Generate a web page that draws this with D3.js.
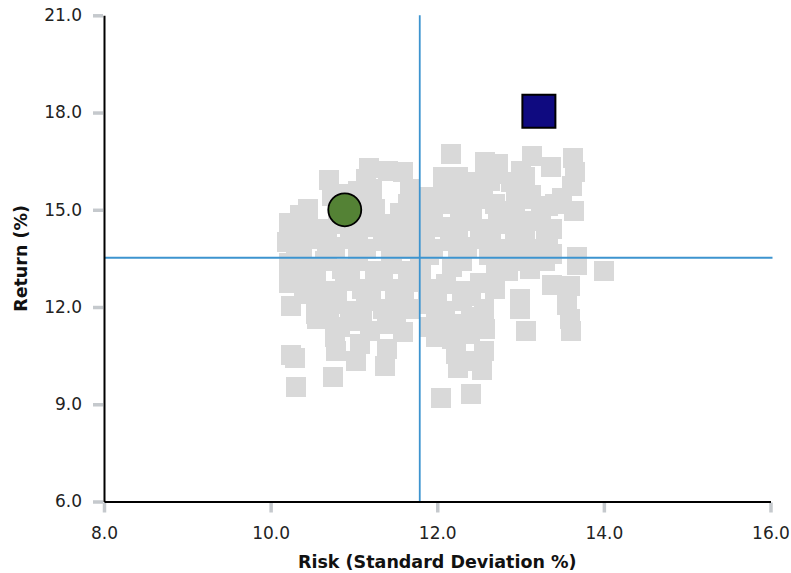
<!DOCTYPE html>
<html>
<head>
<meta charset="utf-8">
<script src="https://cdn.jsdelivr.net/npm/d3@7"></script>
<style>
  html, body { margin: 0; padding: 0; background: #ffffff; }
  svg { display: block; }
</style>
</head>
<body>
<svg id="chart" width="791" height="573"></svg>
<script>
// ---------- DATA ----------
const xTicks = [8, 10, 12, 14, 16];
const yTicks = [6, 9, 12, 15, 18, 21];
const xTitle = "Risk (Standard Deviation %)";
const yTitle = "Return (%)";

// benchmark reference lines
const riskLine = 11.79;
const returnLine = 13.52;

// highlighted points [risk, return]
const circlePoint = [10.89, 15.0];
const squarePoint = [13.22, 18.04];

// simulated portfolios: risk values
const cloudRisk = [
  11.18, 11.41, 11.59, 12.07, 12.16, 12.40, 12.57, 12.73, 12.88, 13.05, 13.14, 13.37, 13.63, 13.65,
  10.70, 10.83, 11.05, 11.22, 11.67, 11.88, 12.09, 12.25, 12.63, 13.13, 13.62,
  10.45, 10.74, 11.07, 11.25, 11.65, 11.77, 12.03, 12.27, 12.49, 12.69, 12.93, 13.11, 13.33, 13.41, 13.64,
  10.22, 10.41, 10.59, 10.81, 11.01, 11.22, 11.46, 11.67, 11.89, 12.09, 12.30, 12.51, 12.73, 12.97, 13.17, 13.38,
  10.20, 10.38, 10.57, 10.77, 10.95, 11.14, 11.35, 11.55, 11.74, 11.95, 12.15, 12.36, 12.56, 12.75, 12.93, 13.13, 13.33, 13.38,
  10.22, 10.45, 10.65, 10.86, 11.05, 11.25, 11.46, 11.65, 11.79, 11.80, 12.18, 12.30, 12.71, 12.90, 13.11, 13.29, 13.68, 13.68, 14.00,
  10.22, 10.50, 10.69, 10.89, 11.10, 11.29, 11.49, 11.67, 11.89, 12.11, 12.31, 12.51, 12.69, 13.38, 13.59,
  10.25, 10.54, 10.56, 10.57, 10.75, 10.95, 11.14, 11.35, 11.55, 11.67, 11.89, 12.09, 12.30, 12.56, 12.99, 12.99, 13.56,
  10.77, 10.83, 11.01, 11.19, 11.40, 11.59, 11.91, 11.99, 12.21, 12.18, 12.39, 12.57, 13.07, 13.59, 13.61,
  10.78, 11.03, 11.07, 11.37, 11.40, 12.22, 12.39, 12.54, 12.25, 12.56,
  10.75, 12.04, 12.40, 10.30, 10.25, 10.29,
  10.35, 11.10, 11.55, 11.95, 12.42, 12.80, 13.25,
  10.30, 10.68, 11.05, 11.45, 11.85, 12.25, 12.65, 13.05, 13.30,
  10.30, 10.68, 11.05, 11.45, 11.90, 12.25, 12.62, 13.02,
  10.30, 10.55, 10.95, 11.35, 12.85,
  10.40, 10.80, 11.20, 11.60, 12.00, 12.40,
  10.70, 11.10, 11.50, 11.98, 12.40, 12.55,
  11.15, 12.25, 12.70, 13.00,
  12.15, 12.55, 12.95, 13.50
];
// simulated portfolios: return values
const cloudReturn = [
  16.30, 16.21, 16.17, 16.01, 16.73, 15.87, 16.48, 16.42, 15.87, 16.02, 16.67, 16.33, 16.61, 16.18,
  15.93, 15.50, 15.59, 15.65, 15.65, 15.40, 15.59, 15.65, 15.90, 15.47, 15.74,
  15.03, 15.43, 15.19, 15.03, 15.19, 14.97, 15.19, 15.03, 15.34, 15.19, 14.97, 15.34, 15.12, 15.19, 14.97,
  14.60, 14.47, 14.41, 14.57, 14.66, 14.47, 14.57, 14.41, 14.60, 14.47, 14.66, 14.41, 14.57, 14.47, 14.66, 14.41,
  14.01, 13.86, 14.10, 13.86, 14.10, 13.79, 14.04, 13.79, 14.04, 13.79, 14.04, 13.86, 14.10, 13.79, 13.98, 13.79, 13.95, 13.63,
  13.36, 13.24, 13.42, 13.18, 13.42, 13.11, 13.33, 13.11, 13.48, 13.02, 13.24, 13.42, 13.18, 13.42, 13.18, 13.42, 13.54, 13.30, 13.11,
  12.74, 12.71, 12.50, 12.80, 12.56, 12.80, 12.56, 12.77, 12.56, 12.71, 12.50, 12.74, 12.56, 12.68, 12.65,
  12.03, 11.79, 11.63, 12.25, 12.09, 11.88, 12.19, 11.94, 12.19, 11.94, 12.09, 11.88, 12.19, 11.94, 12.25, 11.94, 12.06,
  11.07, 11.38, 11.57, 11.26, 11.47, 11.23, 11.38, 11.07, 11.47, 11.01, 11.16, 11.32, 11.26, 11.63, 11.26,
  10.64, 10.33, 10.86, 10.18, 10.70, 10.55, 10.33, 10.05, 10.11, 10.64,
  9.84, 9.19, 9.31, 9.54, 10.52, 10.42,
  14.85, 14.85, 14.90, 14.85, 14.85, 14.80, 14.80,
  14.20, 14.22, 14.25, 14.22, 14.25, 14.22, 14.25, 14.22, 14.20,
  13.65, 13.65, 13.62, 13.62, 13.60, 13.62, 13.60, 13.62,
  13.00, 12.95, 12.98, 12.95, 13.10,
  12.40, 12.35, 12.38, 12.38, 12.38, 12.35,
  11.70, 11.72, 11.70, 11.70, 11.70, 11.62,
  15.95, 16.00, 16.10, 16.20,
  15.35, 15.55, 15.55, 15.35
];

// ---------- LAYOUT ----------
const W = 791, H = 573;
const margin = { left: 104, right: 20.5, top: 15.3, bottom: 71.5 };
const svg = d3.select("#chart");
const fontFamily = "'DejaVu Sans', sans-serif";

const x = d3.scaleLinear().domain([8, 16]).range([margin.left, W - margin.right]);
const y = d3.scaleLinear().domain([6, 21]).range([H - margin.bottom, margin.top]);

// cloud of gray squares
const cloud = cloudRisk.map((r, i) => [r, cloudReturn[i]]);
const sq = 20;
svg.append("g").attr("shape-rendering", "crispEdges")
  .selectAll("rect").data(cloud).join("rect")
  .attr("x", d => x(d[0]) - sq / 2)
  .attr("y", d => y(d[1]) - sq / 2)
  .attr("width", sq).attr("height", sq)
  .attr("fill", "#d9d9d9");

// reference lines
svg.append("line")
  .attr("x1", x(riskLine)).attr("x2", x(riskLine))
  .attr("y1", y(21)).attr("y2", y(6))
  .attr("stroke", "#3d94cf").attr("stroke-width", 1.8);
svg.append("line")
  .attr("x1", x(8)).attr("x2", x(16) + 2)
  .attr("y1", y(returnLine)).attr("y2", y(returnLine))
  .attr("stroke", "#3d94cf").attr("stroke-width", 1.8);

// axes
const xAxis = d3.axisBottom(x).tickValues(xTicks).tickFormat(d3.format(".1f"))
  .tickSize(11).tickSizeOuter(0).tickPadding(14);
const yAxis = d3.axisLeft(y).tickValues(yTicks).tickFormat(d3.format(".1f"))
  .tickSize(11).tickSizeOuter(0).tickPadding(11);

function styleAxis(g) {
  g.select(".domain").attr("stroke", "#000").attr("stroke-width", 2);
  g.selectAll(".tick line").attr("stroke", "#c5c9cd").attr("stroke-width", 3.5);
  g.selectAll(".tick text").attr("fill", "#222").attr("font-size", 17)
    .attr("font-family", fontFamily);
}
const gx = svg.append("g").attr("transform", `translate(0,${y(6)})`).call(xAxis);
styleAxis(gx);
gx.selectAll(".tick line").attr("y1", 1);
const gy = svg.append("g").attr("transform", `translate(${x(8)},0)`).call(yAxis);
styleAxis(gy);
gy.selectAll(".tick line").attr("x1", -1);
gx.select(".domain").raise();
gy.select(".domain").raise();

// highlighted markers
svg.append("circle")
  .attr("cx", x(circlePoint[0])).attr("cy", y(circlePoint[1]))
  .attr("r", 16.5)
  .attr("fill", "#548235").attr("stroke", "#000").attr("stroke-width", 1.8);

const big = 33;
svg.append("rect")
  .attr("x", x(squarePoint[0]) - big / 2).attr("y", y(squarePoint[1]) - big / 2)
  .attr("width", big).attr("height", big)
  .attr("fill", "#0f0a80").attr("stroke", "#000").attr("stroke-width", 2);

// axis titles
svg.append("text")
  .attr("x", (x(8) + x(16)) / 2).attr("y", 568)
  .attr("text-anchor", "middle")
  .attr("font-family", fontFamily).attr("font-weight", "bold").attr("font-size", 17.5)
  .attr("fill", "#111")
  .text(xTitle);
svg.append("text")
  .attr("transform", `translate(27,${(y(6) + y(21)) / 2}) rotate(-90)`)
  .attr("text-anchor", "middle")
  .attr("font-family", fontFamily).attr("font-weight", "bold").attr("font-size", 17.5)
  .attr("fill", "#111")
  .text(yTitle);
</script>
</body>
</html>
